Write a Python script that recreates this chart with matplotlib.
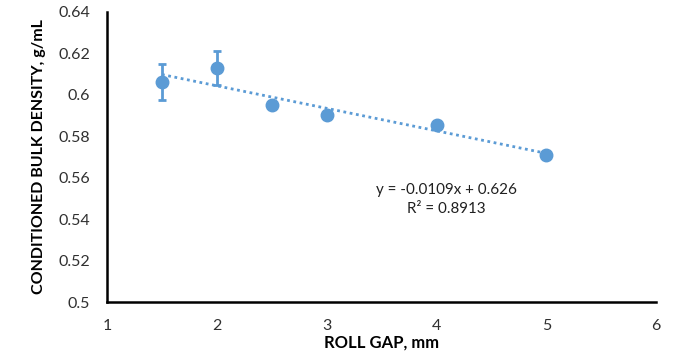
import matplotlib
matplotlib.use("Agg")
import matplotlib.pyplot as plt
import numpy as np
from matplotlib.ticker import FuncFormatter

plt.rcParams['font.family'] = ['Lato', 'DejaVu Sans']

roll_gap = [1.5, 2.0, 2.5, 3.0, 4.0, 5.0]
density = [0.6061, 0.6129, 0.5951, 0.5902, 0.5853, 0.5710]
density_err = [0.0087, 0.0084, 0.0, 0.0, 0.0, 0.0]
x_ticks = [1, 2, 3, 4, 5, 6]
y_ticks = [0.5, 0.52, 0.54, 0.56, 0.58, 0.6, 0.62, 0.64]
equation = "y = -0.0109x + 0.626"
r_squared = "R² = 0.8913"

color = '#5B9BD5'

fig = plt.figure(figsize=(6.73, 3.57), dpi=100)
ax = fig.add_axes([0.159, 0.154, 0.816, 0.813])

# trendline
coef = np.polyfit(roll_gap, density, 1)
xt = np.array([min(roll_gap), max(roll_gap)])
ax.plot(xt, np.polyval(coef, xt), color=color, lw=2, linestyle=(0, (1, 1.3)), zorder=2)

ax.errorbar(roll_gap, density, yerr=density_err, fmt='o', color=color,
            ms=9, capsize=3.2, elinewidth=2, capthick=2, zorder=3)

ax.set_xlim(x_ticks[0], x_ticks[-1])
ax.set_ylim(y_ticks[0], y_ticks[-1])
ax.set_xticks(x_ticks)
ax.set_yticks(y_ticks)
ax.yaxis.set_major_formatter(FuncFormatter(lambda v, p: f"{v:g}"))
ax.tick_params(length=0, labelsize=11.5, labelcolor='#303030')
ax.tick_params(axis='y', pad=12)
ax.tick_params(axis='x', pad=12)

for s in ['top', 'right']:
    ax.spines[s].set_visible(False)
for s in ['left', 'bottom']:
    ax.spines[s].set_linewidth(1.8)
    ax.spines[s].set_color('black')

ax.set_xlabel("ROLL GAP, mm", fontsize=12, fontweight='bold', labelpad=1)
ax.set_ylabel("CONDITIONED BULK DENSITY, g/mL", fontsize=11.5, fontweight='bold', labelpad=9)

ax.text(4.09, 0.5494, equation + "\n" + r_squared, ha='center', va='center',
        fontsize=10.9, color='#202020', linespacing=1.45)

fig.savefig("out.png", dpi=100)
